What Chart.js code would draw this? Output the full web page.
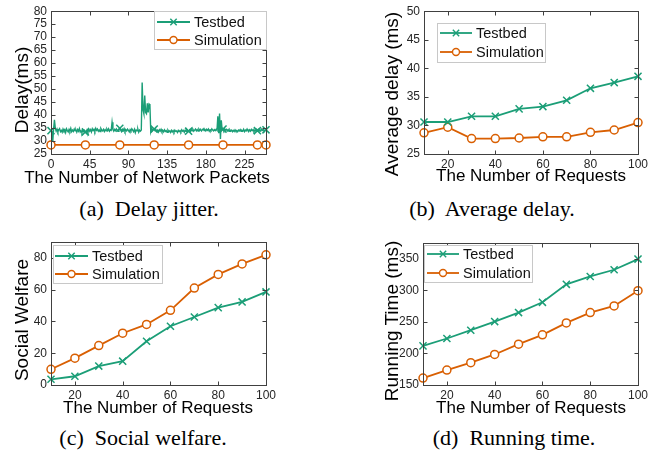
<!DOCTYPE html>
<html>
<head>
<meta charset="utf-8">
<script src="https://cdn.jsdelivr.net/npm/chart.js@4.4.1/dist/chart.umd.min.js"></script>
<style>
  html, body { margin: 0; padding: 0; background: #fff; }
  #wrap { position: relative; width: 660px; height: 457px; overflow: hidden; background: #fff; }
  canvas { position: absolute; }
  .t { position: absolute; white-space: nowrap; font-family: "Liberation Sans", Arial, sans-serif; color: #000; transform: translate(-50%, -50%); line-height: 1; }
  .yt { font-size: 19px; transform: translate(-50%, -50%) rotate(-90deg); }
  .xt { font-size: 17px; }
  .cap { position: absolute; white-space: pre; font-family: "Liberation Serif", "Times New Roman", serif; font-size: 22px; color: #000; transform: translate(-50%, -50%); line-height: 1; }
</style>
</head>
<body>
<div id="wrap">
  <canvas id="ca" width="290" height="190" style="left:0px;top:0px;width:290px;height:190px"></canvas>
  <canvas id="cb" width="330" height="190" style="left:330px;top:0px;width:330px;height:190px"></canvas>
  <canvas id="cc" width="290" height="200" style="left:0px;top:225px;width:290px;height:200px"></canvas>
  <canvas id="cd" width="330" height="200" style="left:330px;top:225px;width:330px;height:200px"></canvas>

  <div class="t yt" style="left:21px;top:90px">Delay(ms)</div>
  <div class="t xt" style="left:147px;top:177px">The Number of Network Packets</div>
  <div class="t yt" style="left:391px;top:94px">Average delay (ms)</div>
  <div class="t xt" style="left:531px;top:175px">The Number of Requests</div>
  <div class="t yt" style="left:21px;top:320px">Social Welfare</div>
  <div class="t xt" style="left:158px;top:407px">The Number of Requests</div>
  <div class="t yt" style="left:391px;top:321px">Running Time (ms)</div>
  <div class="t xt" style="left:531px;top:407px">The Number of Requests</div>

  <div class="cap" style="left:149px;top:209px">(a)  Delay jitter.</div>
  <div class="cap" style="left:492px;top:209px">(b)  Average delay.</div>
  <div class="cap" style="left:143px;top:438px">(c)  Social welfare.</div>
  <div class="cap" style="left:514px;top:438px">(d)  Running time.</div>
</div>
<script>
// ---------------- DATA ----------------
// (a) Delay jitter: testbed delay per network packet (packets 0..250)
const testbedDelay = [
  34.0, 33.2, 29.6, 34.5, 38.2, 35.0, 33.8, 34.6, 33.5, 34.3,
  34.8, 33.6, 34.1, 33.4, 34.6, 33.9, 34.4, 33.3, 34.7, 34.0,
  33.5, 34.5, 33.8, 34.9, 33.6, 34.2, 33.7, 34.6, 33.9, 34.3,
  33.4, 34.4, 33.8, 34.8, 33.5, 34.0, 33.2, 34.3, 33.6, 34.1,
  33.5, 33.0, 34.2, 33.4, 34.6, 33.8, 34.4, 33.5, 34.7, 34.0,
  34.5, 33.7, 34.9, 34.1, 34.6, 33.8, 34.3, 33.6, 34.8, 34.2,
  33.9, 34.5, 33.7, 34.4, 33.9, 34.6, 34.0, 34.7, 33.8, 34.3,
  34.1, 37.2, 34.4, 33.8, 34.5, 34.0, 34.7, 34.2, 33.7, 34.6,
  34.9, 34.2, 33.6, 34.5, 34.0, 34.8, 33.7, 34.3, 33.9, 34.6,
  34.1, 33.5, 34.4, 33.9, 34.7, 34.2, 33.6, 34.5, 33.2, 34.3,
  33.9, 34.6, 33.4, 34.2, 33.8, 34.2, 52.5, 42.0, 40.5, 47.5,
  41.0, 40.5, 44.5, 41.0, 44.3, 44.0, 33.6, 34.8, 34.1, 34.6,
  34.6, 33.9, 34.4, 33.7, 34.2, 33.5, 34.3, 33.8, 34.5, 33.6,
  34.1, 33.5, 34.3, 33.7, 34.0, 33.4, 34.2, 33.6, 33.9, 33.3,
  34.1, 33.5, 34.0, 33.4, 34.2, 33.7, 33.9, 33.3, 34.1, 33.6,
  34.0, 33.5, 34.3, 33.8, 34.1, 33.4, 34.2, 33.7, 34.4, 33.9,
  33.8, 34.3, 33.6, 34.4, 33.9, 34.5, 33.8, 34.2, 34.6, 33.9,
  34.4, 33.8, 34.6, 34.1, 34.5, 33.9, 34.3, 34.7, 34.0, 34.4,
  33.9, 34.5, 34.1, 34.6, 33.8, 34.3, 34.0, 34.7, 34.2, 33.9,
  34.4, 34.0, 34.5, 34.1, 39.5, 33.0, 40.6, 30.8, 38.0, 34.2,
  34.6, 34.0, 34.7, 34.2, 34.5, 33.9, 34.4, 33.7, 34.3, 33.8,
  34.2, 33.6, 34.1, 33.7, 34.3, 33.8, 34.0, 33.6, 34.2, 33.9,
  34.4, 33.7, 34.1, 33.8, 34.5, 33.6, 34.2, 33.9, 34.6, 34.0,
  33.7, 34.3, 33.8, 34.5, 34.0, 34.4, 33.6, 34.2, 33.9, 34.5,
  34.0, 34.5, 33.8, 34.3, 33.9, 34.6, 34.1, 34.4, 33.7, 34.2,
  34.3
];
const simPackets = [0, 40, 80, 120, 160, 200, 240, 250];
const simDelay   = [28.5, 28.5, 28.5, 28.5, 28.5, 28.5, 28.5, 28.5];
const markerPackets = [0, 40, 80, 120, 160, 200, 240, 250];
const packetTicks = [0, 45, 90, 135, 180, 225];
const delayTicks = [25, 30, 35, 40, 45, 50, 55, 60, 65, 70, 75, 80];

// (b)-(d): number of requests
const requests = [10, 20, 30, 40, 50, 60, 70, 80, 90, 100];
const requestTicks = [20, 40, 60, 80, 100];
const avgDelayTestbed = [30.6, 30.6, 31.6, 31.6, 32.9, 33.3, 34.4, 36.5, 37.5, 38.6];
const avgDelaySim     = [28.7, 29.7, 27.7, 27.7, 27.8, 28.0, 28.0, 28.8, 29.2, 30.5];
const avgDelayTicks = [25, 30, 35, 40, 45, 50];
const welfareTestbed = [3.6, 5.5, 11.9, 15.0, 27.5, 37.0, 42.8, 48.7, 52.3, 58.6];
const welfareSim     = [9.9, 16.9, 24.8, 32.6, 38.1, 47.0, 61.0, 69.6, 76.2, 81.9];
const welfareTicks = [0, 20, 40, 60, 80];
const runTestbed = [212, 223.7, 236.8, 250.5, 264.7, 281, 309.5, 322, 332.6, 349.5];
const runSim     = [161, 173.7, 185.3, 198.4, 214.7, 229.5, 248.4, 264.7, 275.3, 299.5];
const runTicks = [150, 200, 250, 300, 350];
const seriesNames = ['Testbed', 'Simulation'];

// ---------------- STYLE ----------------
const GREEN = '#1b9e77';
const ORANGE = '#d95f02';
const FONT = '"Liberation Sans", Arial, sans-serif';
Chart.defaults.font.family = FONT;
Chart.defaults.color = '#262626';

function drawMarker(ctx, style, x, y, r) {
  ctx.beginPath();
  if (style === 'circle') {
    ctx.arc(x, y, r, 0, Math.PI * 2);
    ctx.fillStyle = '#fff';
    ctx.fill();
    ctx.stroke();
  } else {
    const d = r * Math.SQRT1_2;
    ctx.moveTo(x - d, y - d); ctx.lineTo(x + d, y + d);
    ctx.moveTo(x - d, y + d); ctx.lineTo(x + d, y - d);
    ctx.stroke();
  }
}

const framePlugin = {
  id: 'frame',
  afterDraw(chart) {
    const { ctx, chartArea: a, scales } = chart;
    ctx.save();
    ctx.strokeStyle = '#404040';
    ctx.lineWidth = 1;
    const L = Math.round(a.left) + 0.5, R = Math.round(a.right) + 0.5;
    const T = Math.round(a.top) + 0.5, B = Math.round(a.bottom) + 0.5;
    ctx.strokeRect(L, T, R - L, B - T);
    const tl = 4;
    ctx.beginPath();
    scales.x.ticks.forEach(t => {
      const px = Math.round(scales.x.getPixelForValue(t.value)) + 0.5;
      ctx.moveTo(px, B); ctx.lineTo(px, B - tl);
      ctx.moveTo(px, T); ctx.lineTo(px, T + tl);
    });
    scales.y.ticks.forEach(t => {
      const py = Math.round(scales.y.getPixelForValue(t.value)) + 0.5;
      ctx.moveTo(L, py); ctx.lineTo(L + tl, py);
      ctx.moveTo(R, py); ctx.lineTo(R - tl, py);
    });
    ctx.stroke();
    ctx.restore();
  }
};

const legendPlugin = {
  id: 'boxLegend',
  afterDraw(chart, args, o) {
    if (!o || !o.box) return;
    const ctx = chart.ctx;
    const ox = o.off[0], oy = o.off[1];
    const bx = o.box[0] - ox, by = o.box[1] - oy, bw = o.box[2], bh = o.box[3];
    ctx.save();
    ctx.fillStyle = '#fff';
    ctx.fillRect(bx, by, bw, bh);
    ctx.strokeStyle = '#c8c8c8';
    ctx.lineWidth = 1;
    ctx.strokeRect(Math.round(bx) + 0.5, Math.round(by) + 0.5, Math.round(bw), Math.round(bh));
    chart.data.datasets.forEach((ds, i) => {
      const y = o.rows[i] - oy;
      const x0 = o.line[0] - ox, x1 = o.line[1] - ox;
      ctx.strokeStyle = ds.borderColor;
      ctx.lineWidth = 1.8;
      ctx.beginPath(); ctx.moveTo(x0, y); ctx.lineTo(x1, y); ctx.stroke();
      ctx.lineWidth = 1.4;
      drawMarker(ctx, ds.pointStyle === 'circle' ? 'circle' : 'cross', (x0 + x1) / 2, y, ds.pointStyle === 'circle' ? 3.5 : 4.5);
      ctx.fillStyle = '#111';
      ctx.font = '14.5px ' + FONT;
      ctx.textBaseline = 'middle';
      ctx.textAlign = 'left';
      ctx.fillText(ds.label, o.textX - ox, y + 0.5);
    });
    ctx.restore();
  }
};

function makeChart(id, canvasRect, plot, datasets, xCfg, yCfg, legendCfg) {
  const [cl, ct, cw, ch] = canvasRect;
  const yW = plot.left - cl;
  const xH = (ct + ch) - plot.bottom;
  legendCfg.off = [cl, ct];
  return new Chart(document.getElementById(id), {
    type: 'line',
    data: { datasets },
    options: {
      responsive: false,
      animation: false,
      events: [],
      devicePixelRatio: 1,
      layout: { padding: { left: 0, top: plot.top - ct, right: (cl + cw) - plot.right, bottom: 0 } },
      plugins: { legend: { display: false }, tooltip: { enabled: false }, boxLegend: legendCfg },
      scales: {
        x: {
          type: 'linear', min: xCfg.min, max: xCfg.max,
          grid: { display: false, drawTicks: false },
          border: { display: false },
          ticks: { font: { size: 12 }, padding: 3, maxRotation: 0, autoSkip: false },
          afterBuildTicks: s => { s.ticks = xCfg.ticks.map(v => ({ value: v })); },
          afterFit: s => { s.height = xH; }
        },
        y: {
          type: 'linear', min: yCfg.min, max: yCfg.max,
          grid: { display: false, drawTicks: false },
          border: { display: false },
          ticks: { font: { size: 12 }, padding: 4, autoSkip: false },
          afterBuildTicks: s => { s.ticks = yCfg.ticks.map(v => ({ value: v })); },
          afterFit: s => { s.width = yW; }
        }
      }
    },
    plugins: [framePlugin, legendPlugin]
  });
}

function lineDs(label, color, style, points, width, radiusFn) {
  return {
    label, data: points,
    borderColor: color, borderWidth: width,
    pointStyle: style === 'circle' ? 'circle' : 'crossRot',
    pointRadius: radiusFn || (style === 'circle' ? 4 : 5),
    pointBorderWidth: 1.5,
    pointBorderColor: color,
    pointBackgroundColor: '#fff',
    tension: 0, clip: false, fill: false
  };
}

// (a)
const testbedPoints = testbedDelay.map((v, i) => ({ x: i, y: v }));
const simPoints = simPackets.map((p, i) => ({ x: p, y: simDelay[i] }));
makeChart('ca', [0, 0, 290, 190], { left: 51, top: 11, right: 266, bottom: 154 }, [
  lineDs(seriesNames[0], GREEN, 'cross', testbedPoints, 1.4,
    ctx => (ctx.raw && markerPackets.includes(ctx.raw.x)) ? 5 : 0),
  lineDs(seriesNames[1], ORANGE, 'circle', simPoints, 1.8)
], { min: 0, max: 250, ticks: packetTicks }, { min: 25, max: 80, ticks: delayTicks },
  { box: [154, 11, 112, 38], rows: [22, 40], line: [157, 190], textX: 194 });

// (b)
const pts = arr => requests.map((r, i) => ({ x: r, y: arr[i] }));
makeChart('cb', [330, 0, 330, 190], { left: 424, top: 11, right: 638, bottom: 154 }, [
  lineDs(seriesNames[0], GREEN, 'cross', pts(avgDelayTestbed), 1.8),
  lineDs(seriesNames[1], ORANGE, 'circle', pts(avgDelaySim), 1.8)
], { min: 10, max: 100, ticks: requestTicks }, { min: 25, max: 50, ticks: avgDelayTicks },
  { box: [437, 23, 108, 39], rows: [33, 52], line: [440, 472], textX: 476 });

// (c)
makeChart('cc', [0, 225, 290, 200], { left: 51, top: 242, right: 266, bottom: 385 }, [
  lineDs(seriesNames[0], GREEN, 'cross', pts(welfareTestbed), 1.8),
  lineDs(seriesNames[1], ORANGE, 'circle', pts(welfareSim), 1.8)
], { min: 10, max: 100, ticks: requestTicks }, { min: 0, max: 90, ticks: welfareTicks },
  { box: [53, 245, 109, 38], rows: [256, 274], line: [55, 88], textX: 92 });

// (d)
makeChart('cd', [330, 225, 330, 200], { left: 423, top: 243, right: 638, bottom: 385 }, [
  lineDs(seriesNames[0], GREEN, 'cross', pts(runTestbed), 1.8),
  lineDs(seriesNames[1], ORANGE, 'circle', pts(runSim), 1.8)
], { min: 10, max: 100, ticks: requestTicks }, { min: 150, max: 375, ticks: runTicks },
  { box: [424, 245, 108, 37], rows: [254, 273], line: [427, 459], textX: 463 });
</script>
</body>
</html>
